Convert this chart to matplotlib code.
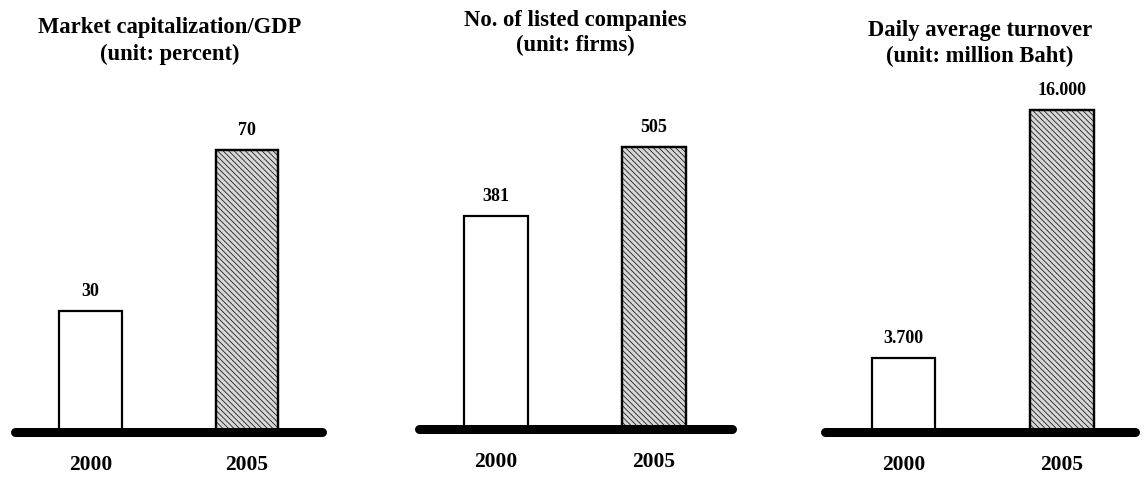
import matplotlib.pyplot as plt

years = ["2000", "2005"]

titles = [
    "Market capitalization/GDP\n(unit: percent)",
    "No. of listed companies\n(unit: firms)",
    "Daily average turnover\n(unit: million Baht)",
]
values = [
    [30, 70],
    [381, 505],
    [3.7, 16.0],
]
value_labels = [
    ["30", "70"],
    ["381", "505"],
    ["3.700", "16.000"],
]

W, H = 1144, 479
plt.rcParams['font.family'] = ['Liberation Serif', 'DejaVu Serif']
plt.rcParams['font.weight'] = 'bold'
plt.rcParams['hatch.color'] = '#c4c4c4'
plt.rcParams['hatch.linewidth'] = 0.5

fig = plt.figure(figsize=(W / 100, H / 100), dpi=100)

# pixel layout of each panel: baseline left, right, y (from top), px per unit, x-range,
# title centre x and title text baselines (from top)
panels = [
    dict(x0=10, x1=327, yb=432, ppu=4.03, lo=-0.514, hi=1.512, tx=170, ty=(33, 60)),
    dict(x0=414, x1=737, yb=429, ppu=0.5585, lo=-0.519, hi=1.525, tx=575, ty=(26, 51)),
    dict(x0=820, x1=1140, yb=432, ppu=20.1, lo=-0.527, hi=1.492, tx=980, ty=(36, 62)),
]

for i, p in enumerate(panels):
    bottom = H - p['yb']
    ax = fig.add_axes([p['x0'] / W, bottom / H, (p['x1'] - p['x0']) / W, p['yb'] / H])
    ax.set_xlim(p['lo'], p['hi'])
    ax.set_ylim(0, p['yb'] / p['ppu'])
    ax.axis('off')

    ax.bar(0, values[i][0], width=0.40, color='white', edgecolor='black', linewidth=1.6, zorder=2)
    ax.bar(1, values[i][1], width=0.40, color='#d6d6d6', edgecolor='black', linewidth=1.6,
           hatch='\\\\\\\\\\\\', zorder=2)
    # restore black edge over hatch
    ax.bar(1, values[i][1], width=0.40, fill=False, edgecolor='black', linewidth=1.6, zorder=3)

    ax.plot([p['lo'] + 0.03, p['hi'] - 0.03], [0, 0], color='black', lw=6.5,
            solid_capstyle='round', clip_on=False, zorder=4)

    for j in range(2):
        ax.annotate(value_labels[i][j], (j, values[i][j]), xytext=(0, 14),
                    textcoords='offset points', ha='center', va='center',
                    fontsize=13, fontweight='bold')
        ax.annotate(years[j], (j, 0), xytext=(0, -24), textcoords='offset points',
                    ha='center', va='center', fontsize=15.5, fontweight='bold',
                    annotation_clip=False)

    l1, l2 = titles[i].split("\n")
    fig.text(p['tx'] / W, 1 - p['ty'][0] / H, l1, ha='center', va='baseline',
             fontsize=16.3, fontweight='bold')
    fig.text(p['tx'] / W, 1 - p['ty'][1] / H, l2, ha='center', va='baseline',
             fontsize=16.3, fontweight='bold')

fig.savefig('out.png', dpi=100)
